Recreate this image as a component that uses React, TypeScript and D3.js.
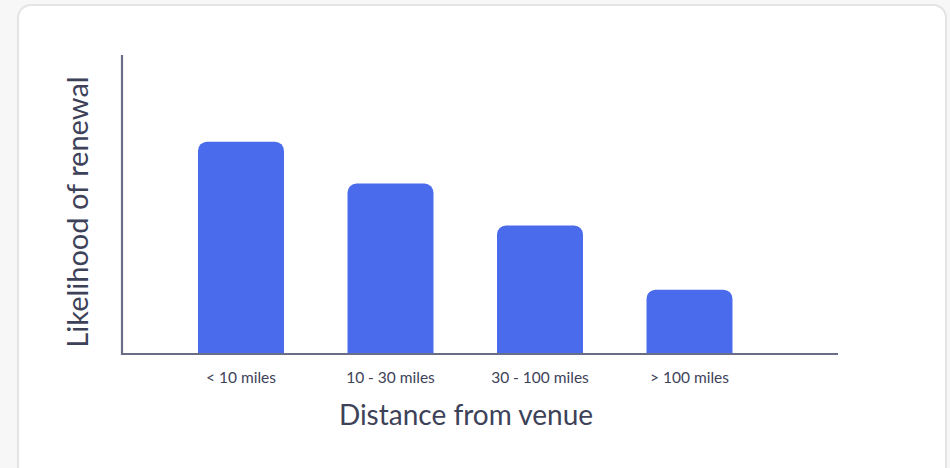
import React from "react";
import * as d3 from "d3";

// Renewal likelihood by distance band
const categories: string[] = ["< 10 miles", "10 - 30 miles", "30 - 100 miles", "> 100 miles"];
const likelihood: number[] = [71, 57, 43, 21.5];
const yMax = 100;

const W = 950;
const H = 468;
const plot = { left: 122, right: 838, top: 55, bottom: 354 };
const barColor = "#4a6beb";
const axisColor = "#6a6d87";
const textColor = "#3d4259";
const font = "Lato, 'Open Sans', sans-serif";

// Bar outline with rounded top corners only
function topRoundedBar(x: number, y: number, w: number, h: number, r: number): string {
  const p = d3.path();
  p.moveTo(x, y + h);
  p.lineTo(x, y + r);
  p.arcTo(x, y, x + r, y, r);
  p.lineTo(x + w - r, y);
  p.arcTo(x + w, y, x + w, y + r, r);
  p.lineTo(x + w, y + h);
  p.closePath();
  return p.toString();
}

export default function App() {
  const x = d3
    .scaleBand<string>()
    .domain(categories)
    .range([166.25, 764.25])
    .paddingInner(0.425)
    .paddingOuter(0.2125);
  const y = d3.scaleLinear().domain([0, yMax]).range([plot.bottom, plot.top]);

  return (
    <svg
      width={W}
      height={H}
      viewBox={`0 0 ${W} ${H}`}
      style={{ position: "absolute", left: 0, top: 0, display: "block", background: "#f7f7f7" }}
    >
      <rect x={18} y={5} width={928} height={490} rx={13} fill="#ffffff" stroke="#e4e4e4" strokeWidth={2} />

      {categories.map((c, i) => {
        const bx = x(c) as number;
        const by = y(likelihood[i]);
        return (
          <path
            key={c}
            d={topRoundedBar(bx, by, x.bandwidth(), plot.bottom - by, 9)}
            fill={barColor}
          />
        );
      })}

      <line x1={plot.left} y1={plot.top} x2={plot.left} y2={plot.bottom + 1} stroke={axisColor} strokeWidth={2.2} />
      <line x1={plot.left - 1} y1={plot.bottom} x2={plot.right} y2={plot.bottom} stroke={axisColor} strokeWidth={2.2} />

      {categories.map((c) => (
        <text
          key={c}
          x={(x(c) as number) + x.bandwidth() / 2}
          y={383}
          textAnchor="middle"
          fontFamily={font}
          fontSize={15.5}
          fill={textColor}
        >
          {c}
        </text>
      ))}

      <text x={466} y={425} textAnchor="middle" fontFamily={font} fontSize={28} fill={textColor}>
        Distance from venue
      </text>
      <text
        transform="translate(88,212) rotate(-90)"
        textAnchor="middle"
        fontFamily={font}
        fontSize={29}
        fill={textColor}
      >
        Likelihood of renewal
      </text>
    </svg>
  );
}
